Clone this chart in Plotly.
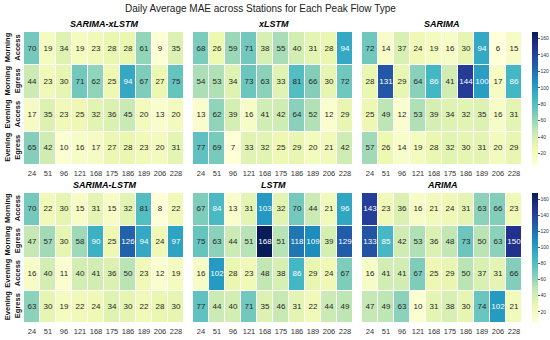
import plotly.graph_objects as go

stations = ["24", "51", "96", "121", "168", "175", "186", "189", "206", "228"]
flow_types = ["Morning<br>Access", "Morning<br>Egress", "Evening<br>Access", "Evening<br>Egress"]
titles = ["SARIMA-xLSTM", "xLSTM", "SARIMA", "SARIMA-LSTM", "LSTM", "ARIMA"]

sarima_xlstm = [
    [70, 19, 34, 19, 23, 28, 28, 61, 9, 35],
    [44, 23, 30, 71, 62, 25, 94, 67, 27, 75],
    [17, 35, 23, 25, 32, 36, 45, 20, 13, 20],
    [65, 42, 10, 16, 17, 27, 28, 23, 20, 31],
]
xlstm = [
    [68, 26, 59, 71, 38, 55, 40, 31, 28, 94],
    [54, 53, 34, 73, 63, 33, 81, 66, 30, 72],
    [13, 62, 39, 16, 41, 42, 64, 52, 12, 29],
    [77, 69, 7, 33, 32, 25, 29, 20, 21, 42],
]
sarima = [
    [72, 14, 37, 24, 19, 16, 30, 94, 6, 15],
    [28, 131, 29, 64, 86, 41, 144, 100, 17, 86],
    [25, 49, 12, 53, 39, 34, 32, 35, 16, 31],
    [57, 26, 14, 19, 28, 32, 30, 31, 20, 29],
]
sarima_lstm = [
    [70, 22, 30, 15, 31, 15, 32, 81, 8, 22],
    [47, 57, 30, 58, 90, 25, 126, 94, 24, 97],
    [16, 40, 11, 40, 41, 36, 50, 23, 12, 19],
    [63, 30, 19, 22, 24, 34, 30, 22, 28, 30],
]
lstm = [
    [67, 84, 13, 31, 103, 32, 70, 44, 21, 96],
    [75, 63, 44, 51, 168, 51, 118, 109, 39, 129],
    [16, 102, 28, 23, 48, 38, 86, 29, 24, 67],
    [77, 44, 40, 71, 35, 46, 31, 22, 44, 49],
]
arima = [
    [143, 23, 36, 16, 21, 24, 31, 63, 66, 23],
    [133, 85, 42, 53, 36, 48, 73, 50, 63, 150],
    [16, 41, 41, 67, 25, 29, 50, 37, 31, 66],
    [47, 49, 63, 10, 31, 38, 30, 74, 102, 21],
]
panels = [sarima_xlstm, xlstm, sarima, sarima_lstm, lstm, arima]

W, H = 550, 340
ZMIN, ZMAX = 6, 168
ylgnbu = [
    [0.0, "#ffffd9"], [0.125, "#edf8b1"], [0.25, "#c7e9b4"], [0.375, "#7fcdbb"],
    [0.5, "#41b6c4"], [0.625, "#1d91c0"], [0.75, "#225ea8"], [0.875, "#253494"],
    [1.0, "#081d58"],
]

xpix = [(24, 184), (193, 353), (362, 522)]
ypix = [(32, 165), (193, 323)]

fig = go.Figure()
layout = {}
annotations = []
font_fam = "Liberation Sans, Arial, sans-serif"

for i, data in enumerate(panels):
    r, c = divmod(i, 3)
    idx = "" if i == 0 else str(i + 1)
    xa, ya = "x" + idx, "y" + idx
    ca = "coloraxis" if r == 0 else "coloraxis2"
    fig.add_trace(go.Heatmap(
        z=data, x=stations, y=flow_types, coloraxis=ca,
        xgap=1, ygap=1, xaxis=xa, yaxis=ya, hoverinfo="skip",
    ))
    tx, ty, tt, tc = [], [], [], []
    for ri, row in enumerate(data):
        for ci, v in enumerate(row):
            tx.append(stations[ci]); ty.append(flow_types[ri]); tt.append(str(v))
            tc.append("white" if v >= 84 else "#262626")
    fig.add_trace(go.Scatter(
        x=tx, y=ty, text=tt, mode="text", xaxis=xa, yaxis=ya,
        textfont=dict(size=8, color=tc, family=font_fam), showlegend=False, hoverinfo="skip",
    ))
    x0, x1 = xpix[c]
    y0, y1 = ypix[r]
    layout["xaxis" + idx] = dict(
        domain=[x0 / W, x1 / W], anchor=ya, range=[-0.5, 9.5], type="category",
        showgrid=False, zeroline=False, showline=False, ticks="", tickangle=0,
        ticklabelstandoff=2, automargin=False,
        tickfont=dict(size=7.5, color="#333333", family=font_fam),
    )
    layout["yaxis" + idx] = dict(
        domain=[1 - y1 / H, 1 - y0 / H], anchor=xa, range=[3.5, -0.5], type="category",
        showgrid=False, zeroline=False, showline=False, ticks="", automargin=False,
        showticklabels=(c == 0), tickangle=-90, ticklabelstandoff=2,
        tickfont=dict(size=7.5, color="#111111", family=font_fam, weight="bold"),
    )
    annotations.append(dict(
        text="<b><i>%s</i></b>" % titles[i], x=((x0 + x1) / 2) / W, y=1 - (y0 - 8) / H,
        xref="paper", yref="paper", showarrow=False, xanchor="center", yanchor="middle",
        font=dict(size=9, color="black", family=font_fam),
    ))

annotations.append(dict(
    text="Daily Average MAE across Stations for Each Peak Flow Type", x=260 / W, y=1 - 8 / H,
    xref="paper", yref="paper", showarrow=False, xanchor="center", yanchor="middle",
    font=dict(size=10, color="#222222", family=font_fam),
))

def cbar(yp):
    y0, y1 = yp
    return dict(
        x=532 / W, xanchor="left", xpad=0, ypad=0, y=1 - y0 / H, yanchor="top",
        len=(y1 - y0) / H, lenmode="fraction", thickness=6, outlinewidth=0,
        tickvals=[20, 40, 60, 80, 100, 120, 140, 160], ticks="outside", ticklen=2,
        tickcolor="#555555",
        tickfont=dict(size=5, color="#333333", family=font_fam),
    )

fig.update_layout(
    width=W, height=H, margin=dict(l=0, r=0, t=0, b=0, autoexpand=False),
    paper_bgcolor="white", plot_bgcolor="white", showlegend=False,
    annotations=annotations,
    coloraxis=dict(colorscale=ylgnbu, cmin=ZMIN, cmax=ZMAX, colorbar=cbar(ypix[0])),
    coloraxis2=dict(colorscale=ylgnbu, cmin=ZMIN, cmax=ZMAX, colorbar=cbar(ypix[1])),
    **layout,
)

fig.write_html(
    "out.html",
    config={"displayModeBar": False},
    post_script="document.body.style.margin='0';document.body.style.overflow='hidden';",
)
